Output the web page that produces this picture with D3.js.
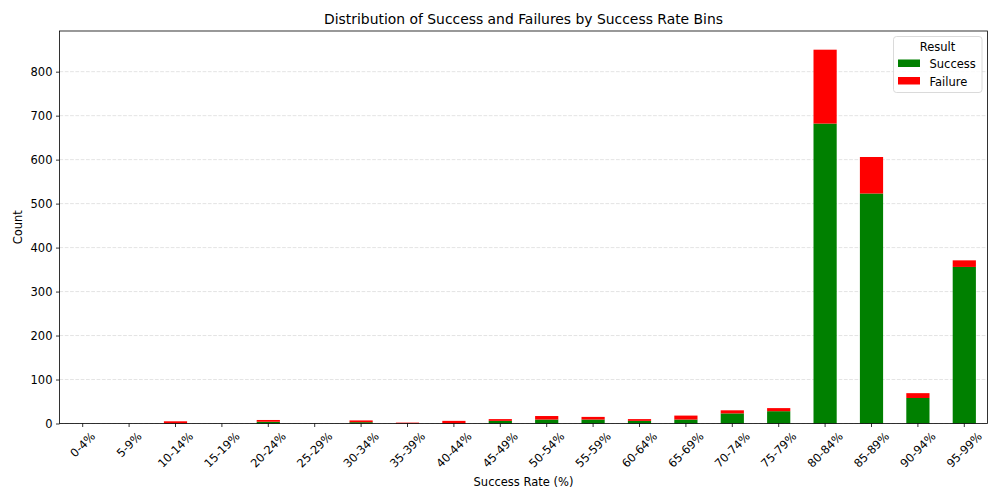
<!DOCTYPE html>
<html><head><meta charset="utf-8">
<script src="https://cdn.jsdelivr.net/npm/d3@7"></script>
<style>body{margin:0;background:#fff}svg{font-family:"DejaVu Sans",sans-serif}</style>
</head><body>
<svg id="c" width="1000" height="500"></svg>
<script>
const categories = ["0-4%","5-9%","10-14%","15-19%","20-24%","25-29%","30-34%","35-39%","40-44%","45-49%","50-54%","55-59%","60-64%","65-69%","70-74%","75-79%","80-84%","85-89%","90-94%","95-99%"];
const successVals = [0,0,0,0,4,0,3,0,0,6,9,9,6,9,23,28,682,523,58,356];
const failureVals = [0,0,5,0,4,0,4,2,6,4,8,6,4,9,7,7,168,83,11,15];
const yTicks = [0,100,200,300,400,500,600,700,800];
const seriesNames = ["Success","Failure"];
const colors = ["#008000","#ff0000"];

const FS = "11.5px";
const svg = d3.select("#c");
const L = 59.5, R = 987.5, T = 31, B = 423.5;
const x = d3.scaleBand().domain(categories).range([L, R]).paddingInner(0.5).paddingOuter(0.25);
const yMax = d3.max(categories, (c,i)=>successVals[i]+failureVals[i]) * 1.05;
const y = d3.scaleLinear().domain([0, yMax]).range([B, T]);

// grid
svg.append("g").selectAll("line").data(yTicks).join("line")
  .attr("x1", L).attr("x2", R).attr("y1", d=>y(d)).attr("y2", d=>y(d))
  .attr("stroke", "#b0b0b0").attr("stroke-opacity", 0.45).attr("stroke-dasharray", "3.7,1.6").attr("stroke-width", 0.8);

// bars
const stackData = categories.map((c,i)=>({cat:c, Success:successVals[i], Failure:failureVals[i]}));
const stack = d3.stack().keys(seriesNames)(stackData);
stack.forEach((layer, k) => {
  svg.append("g").selectAll("rect").data(layer).join("rect")
    .attr("x", d=>x(d.data.cat)).attr("width", x.bandwidth())
    .attr("y", d=>y(d[1])).attr("height", d=>Math.max(0, y(d[0]) - y(d[1])))
    .attr("fill", colors[k]);
});

// axes
const yAxis = d3.axisLeft(y).tickValues(yTicks).tickSize(3.5).tickPadding(3.5);
const gy = svg.append("g").attr("transform", `translate(${L},0)`).call(yAxis);
gy.select(".domain").remove();
gy.selectAll("text").attr("font-size", FS).attr("fill", "#000").style("font-family","DejaVu Sans");
gy.selectAll("line").attr("stroke", "#000").attr("stroke-width", 0.8);

const xAxis = d3.axisBottom(x).tickSize(3.5).tickFormat("");
const gx = svg.append("g").attr("transform", `translate(0,${B})`).call(xAxis);
gx.select(".domain").remove();
gx.selectAll("line").attr("stroke", "#000").attr("stroke-width", 0.8);

// rotated x labels, bbox centered on tick
const lbl = svg.append("g");
categories.forEach(c => {
  const t = lbl.append("text").text(c).attr("font-size", FS).attr("text-anchor", "middle")
    .attr("dominant-baseline", "central");
  const w = t.node().getComputedTextLength();
  const h = 9;
  const ext = (w + h) / Math.SQRT2;
  const cx = x(c) + x.bandwidth()/2, cy = B + 3.5 + 4 + ext/2;
  t.attr("transform", `translate(${cx},${cy}) rotate(-45)`);
});

// frame
svg.append("rect").attr("x", L).attr("y", T).attr("width", R-L).attr("height", B-T)
  .attr("fill", "none").attr("stroke", "#000").attr("stroke-width", 0.8);

// titles
svg.append("text").attr("x", (L+R)/2).attr("y", 24).attr("text-anchor", "middle")
  .attr("font-size", "13.9px").text("Distribution of Success and Failures by Success Rate Bins");
svg.append("text").attr("x", (L+R)/2).attr("y", 485.5).attr("text-anchor", "middle")
  .attr("font-size", FS).text("Success Rate (%)");
svg.append("text").attr("transform", `translate(22,${(T+B)/2}) rotate(-90)`).attr("text-anchor", "middle")
  .attr("font-size", FS).text("Count");

// legend
const lg = svg.append("g");
lg.append("rect").attr("x", 893.5).attr("y", 36.5).attr("width", 88.5).attr("height", 56).attr("rx", 3)
  .attr("fill", "#fff").attr("fill-opacity", 0.8).attr("stroke", "#d0d0d0").attr("stroke-width", 0.8);
lg.append("text").attr("x", 937.5).attr("y", 51).attr("text-anchor", "middle").attr("font-size", FS).text("Result");
seriesNames.forEach((n,i) => {
  lg.append("rect").attr("x", 898).attr("y", 59.5 + i*17.5).attr("width", 22).attr("height", 7.5).attr("fill", colors[i]);
  lg.append("text").attr("x", 929.5).attr("y", 68 + i*17.5).attr("font-size", FS).text(n);
});
</script>
</body></html>
